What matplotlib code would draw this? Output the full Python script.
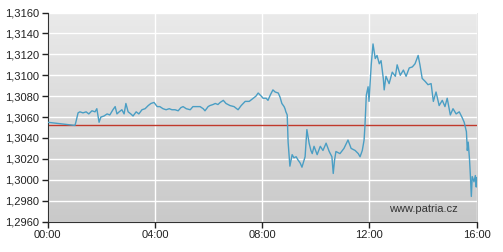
import numpy as np
import matplotlib.pyplot as plt

# minutes since 00:00 and EUR/USD quote
minutes = [0, 61, 63, 68, 72, 79, 86, 92, 99, 106, 110, 115, 119, 126, 133, 139, 146, 151, 155, 160,
           166, 171, 175, 180, 186, 191, 198, 204, 211, 218, 225, 231, 238, 245, 251, 258, 265, 272, 278,
           285, 292, 298, 303, 310, 319, 325, 334, 341, 348, 352, 359, 363, 370, 375, 381, 386, 393, 399,
           408, 417, 426, 433, 442, 451, 460, 466, 471, 478, 482, 489, 493, 498, 504, 509, 516, 520, 524,
           529, 531, 533, 536, 538, 541, 542, 547, 551, 556, 560, 565, 569, 574, 576, 580, 585, 589, 592,
           596, 603, 610, 616, 623, 630, 636, 639, 642, 645, 654, 663, 672, 679, 688, 695, 699, 704, 708,
           710, 713, 717, 719, 722, 724, 728, 733, 737, 742, 746, 751, 753, 757, 764, 771, 778, 782, 789,
           796, 802, 809, 816, 822, 829, 833, 838, 845, 851, 858, 863, 869, 876, 883, 889, 894, 901, 907,
           914, 921, 928, 932, 937, 939, 941, 944, 946, 948, 950, 954, 957, 959, 960]
quote = [1.3055, 1.3052, 1.3055, 1.3064, 1.3065, 1.3064, 1.3065, 1.3063, 1.3066, 1.3065, 1.3068, 1.3055,
         1.3060, 1.3061, 1.3063, 1.3062, 1.3067, 1.3070, 1.3063, 1.3065, 1.3067, 1.3063, 1.3073, 1.3065,
         1.3063, 1.3061, 1.3065, 1.3063, 1.3067, 1.3068, 1.3071, 1.3073, 1.3074, 1.3070, 1.3070, 1.3068,
         1.3067, 1.3068, 1.3067, 1.3067, 1.3066, 1.3069, 1.3070, 1.3068, 1.3067, 1.3070, 1.3070, 1.3070,
         1.3068, 1.3066, 1.3070, 1.3071, 1.3072, 1.3073, 1.3072, 1.3074, 1.3076, 1.3073, 1.3071, 1.3070,
         1.3067, 1.3071, 1.3075, 1.3075, 1.3078, 1.3080, 1.3083, 1.3080, 1.3078, 1.3078, 1.3076, 1.3081,
         1.3086, 1.3084, 1.3083, 1.3079, 1.3073, 1.3070, 1.3068, 1.3065, 1.3062, 1.3036, 1.3019, 1.3013,
         1.3024, 1.3021, 1.3022, 1.3019, 1.3016, 1.3012, 1.3019, 1.3022, 1.3048, 1.3035, 1.3028, 1.3025,
         1.3032, 1.3024, 1.3032, 1.3028, 1.3035, 1.3027, 1.3022, 1.3006, 1.3019, 1.3027, 1.3025, 1.3030,
         1.3038, 1.3030, 1.3028, 1.3025, 1.3022, 1.3028, 1.3038, 1.3052, 1.3081, 1.3089, 1.3075, 1.3097,
         1.3110, 1.3130, 1.3116, 1.3119, 1.3111, 1.3114, 1.3097, 1.3086, 1.3099, 1.3092, 1.3103, 1.3099,
         1.3110, 1.3100, 1.3105, 1.3099, 1.3107, 1.3108, 1.3111, 1.3119, 1.3110, 1.3097, 1.3094, 1.3091,
         1.3092, 1.3075, 1.3084, 1.3071, 1.3076, 1.3070, 1.3078, 1.3062, 1.3068, 1.3063, 1.3065, 1.3059,
         1.3055, 1.3046, 1.3028, 1.3036, 1.3019, 1.3003, 1.2984, 1.3003, 1.2998, 1.3004, 1.2993, 1.3002]
prev_close = 1.3052

x_ticks = [0, 240, 480, 720, 960]
x_labels = ['00:00', '04:00', '08:00', '12:00', '16:00']
y_ticks = [1.2960, 1.2980, 1.3000, 1.3020, 1.3040, 1.3060, 1.3080, 1.3100, 1.3120, 1.3140, 1.3160]

plt.rcParams['font.family'] = ['Liberation Sans', 'DejaVu Sans']

fig = plt.figure(figsize=(5.03, 2.52), dpi=100)
ax = fig.add_axes([0.0948, 0.121, 0.8529, 0.829])

# grey gradient background
grad = np.linspace(0, 1, 256).reshape(-1, 1)
ax.imshow(grad, cmap=plt.cm.colors.LinearSegmentedColormap.from_list('bg', ['#eaeaea', '#c9c9c9']),
          extent=[0, 960, 1.2960, 1.3160], aspect='auto', origin='upper', zorder=0)

for yt in y_ticks:
    ax.axhline(yt, color='white', lw=1, zorder=1)
for xt in x_ticks:
    ax.axvline(xt, color='white', lw=1, zorder=1)

ax.axhline(prev_close, color='#c0392b', lw=1, zorder=2)
ax.plot(minutes, quote, color='#4a9ec4', lw=1, zorder=3)

ax.set_xlim(0, 960)
ax.set_ylim(1.2960, 1.3160)
ax.set_xticks(x_ticks)
ax.set_xticklabels(x_labels)
ax.set_yticks(y_ticks)
ax.set_yticklabels([f'{v:.4f}'.replace('.', ',') for v in y_ticks])
ax.tick_params(labelsize=8, colors='#222222', length=4, width=1, pad=2)

for s in ['top', 'right']:
    ax.spines[s].set_visible(False)
for s in ['left', 'bottom']:
    ax.spines[s].set_color('#333333')

ax.text(0.955, 0.06, 'www.patria.cz', transform=ax.transAxes, ha='right', va='center',
        fontsize=8, color='#333333', zorder=4)

fig.savefig('out.png', dpi=100)
